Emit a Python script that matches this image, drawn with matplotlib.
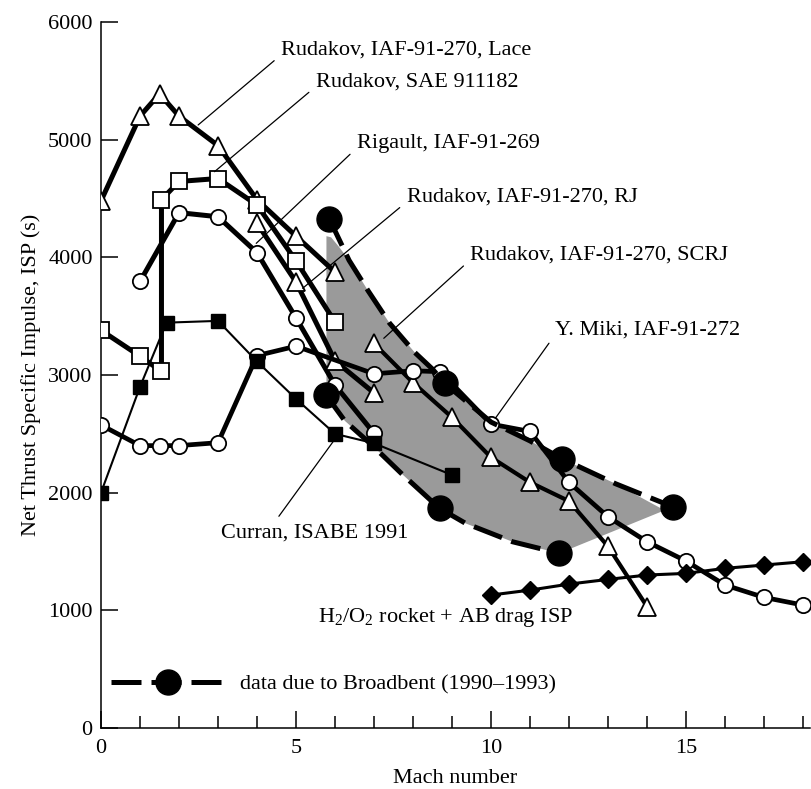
import matplotlib
matplotlib.use('Agg')
import matplotlib.pyplot as plt

plt.rcParams['font.family'] = ['Liberation Serif', 'DejaVu Serif']
plt.rcParams['mathtext.default'] = 'regular'
plt.rcParams['font.size'] = 16

# Rudakov, IAF-91-270, Lace (open triangles)
lace_m = [0, 1, 1.5, 2, 3, 4, 5, 6]
lace_isp = [4480, 5200, 5390, 5200, 4950, 4490, 4180, 3875]
# Rudakov, SAE 911182 (open squares)
sae_m = [0, 1, 1.55, 1.55, 2, 3, 4, 5, 6]
sae_isp = [3380, 3160, 3030, 4490, 4645, 4670, 4445, 3970, 3450]
# Rigault, IAF-91-269 (open circles)
rig_m = [1, 2, 3, 4, 5, 6, 7]
rig_isp = [3795, 4380, 4345, 4040, 3485, 2915, 2505]
# Rudakov, IAF-91-270, RJ
rj_m = [4, 5, 6, 7]
rj_isp = [4290, 3790, 3120, 2848]
# Rudakov, IAF-91-270, SCRJ
scrj_m = [7, 8, 9, 10, 11, 12, 13, 14]
scrj_isp = [3268, 2935, 2640, 2300, 2088, 1928, 1543, 1032]
# Y. Miki, IAF-91-272
miki_m = [0, 1, 1.5, 2, 3, 4, 5, 7, 8, 8.7, 10, 11, 12, 13, 14, 15, 16, 17, 18]
miki_isp = [2575, 2400, 2400, 2400, 2425, 3165, 3245, 3010, 3036, 3028, 2583,
            2520, 2087, 1795, 1583, 1419, 1215, 1110, 1045]
# Curran, ISABE 1991 (filled squares)
cur_m = [0, 1, 1.68, 3, 4, 5, 6, 7, 9]
cur_isp = [2000, 2900, 3445, 3460, 3115, 2797, 2500, 2420, 2150]
# H2/O2 rocket + AB drag (diamonds)
rock_m = [10, 11, 12, 13, 14, 15, 16, 17, 18]
rock_isp = [1130, 1172, 1223, 1263, 1300, 1314, 1357, 1385, 1413]

# Broadbent data points and band edges
bb_m = [5.85, 8.81, 11.81, 14.66, 5.77, 8.68, 11.75]
bb_isp = [4330, 2930, 2290, 1880, 2830, 1867, 1485]
bb_up_m = [5.85, 6.36, 6.85, 7.4, 8.05, 8.5, 8.81, 10.0, 11.0, 11.81, 13.2, 14.66]
bb_up_isp = [4330, 3975, 3715, 3440, 3190, 3050, 2930, 2600, 2440, 2290, 2075, 1880]
bb_lo_m = [5.77, 6.25, 6.95, 7.7, 8.68, 9.35, 10.55, 11.75]
bb_lo_isp = [2830, 2611, 2404, 2164, 1867, 1739, 1583, 1485]
shade_m = [5.78, 5.9, 6.1, 6.36, 6.85, 7.4, 8.05, 8.5, 8.81, 10.0, 11.0, 11.81,
           13.2, 14.45, 11.75, 10.55, 9.35, 8.68, 7.7, 6.95, 6.25, 5.78]
shade_isp = [4180, 4170, 4090, 3975, 3715, 3440, 3190, 3050, 2930, 2600, 2440, 2290,
             2075, 1850, 1485, 1583, 1739, 1867, 2164, 2404, 2611, 2838]

fig = plt.figure(figsize=(8.12, 7.89), dpi=100)
ax = fig.add_axes([0.1244, 0.0773, 0.8732, 0.8948])

ax.fill(shade_m, shade_isp, color='#9a9a9a', lw=0, zorder=1)

thick = 3.6
wkw = dict(mfc='white', mec='black', mew=1.3, color='black')
ax.plot(lace_m, lace_isp, marker='^', ms=13, lw=thick, zorder=3, **wkw)
ax.plot(sae_m, sae_isp, marker='s', ms=11, lw=thick, zorder=3, **wkw)
ax.plot(rig_m, rig_isp, marker='o', ms=11, lw=thick, zorder=3, **wkw)
ax.plot(rj_m, rj_isp, marker='^', ms=13, lw=thick, zorder=3, **wkw)
ax.plot(scrj_m, scrj_isp, marker='^', ms=13, lw=3.0, zorder=3, **wkw)
ax.plot(miki_m, miki_isp, marker='o', ms=11, lw=3.4, zorder=3, **wkw)
ax.plot(cur_m, cur_isp, marker='s', ms=10, lw=1.5, color='black', zorder=3)
ax.plot(rock_m, rock_isp, marker='D', ms=9.5, lw=2.2, color='black', zorder=3)

dash_up, = ax.plot(bb_up_m, bb_up_isp, color='black', lw=thick, zorder=4)
dash_up.set_dashes((6, 2))
dash_lo, = ax.plot(bb_lo_m, bb_lo_isp, color='black', lw=thick, zorder=4)
dash_lo.set_dashes((6, 2))
dots, = ax.plot(bb_m, bb_isp, 'o', ms=18, color='black', zorder=5)

leg = ax.legend([(dash_up, dots)], ['data due to Broadbent (1990\u20131993)'],
                loc='center left', bbox_to_anchor=(0.014, 0.062),
                frameon=False, borderpad=0, borderaxespad=0,
                handlelength=5.1, handletextpad=0.7, fontsize=16)

# leader lines: (label, target point, text position)
notes = [
    ('Rudakov, IAF-91-270, Lace', (2.49, 5125), (4.62, 5762), (0, 0.25)),
    ('Rudakov, SAE 911182', (2.91, 4728), (5.51, 5493), (0, 0.25)),
    ('Rigault, IAF-91-269', (3.98, 4119), (6.56, 4971), (0, 0.25)),
    ('Rudakov, IAF-91-270, RJ', (5.17, 3737), (7.84, 4513), (0, 0.25)),
    ('Rudakov, IAF-91-270, SCRJ', (7.25, 3312), (9.47, 4020), (0, 0.25)),
    ('Y. Miki, IAF-91-272', (10.11, 2632), (11.64, 3382), (0, 0.25)),
    ('Curran, ISABE 1991', (6.0, 2456), (3.08, 1657), (0.28, 1.0)),
]
for label, xy, xyt, rp in notes:
    ax.annotate(label, xy=xy, xytext=xyt, ha='left', va='center', fontsize=16,
                arrowprops=dict(arrowstyle='-', lw=0.9, color='black',
                                relpos=rp, shrinkA=4, shrinkB=0))

ax.text(12.1, 935, 'H$_2$/O$_2$ rocket + AB drag ISP', ha='right', va='center',
        fontsize=16)

ax.set_xlim(0, 18.18)
ax.set_ylim(0, 6000)
ax.set_xticks([0, 5, 10, 15])
ax.set_xticks(range(0, 19), minor=True)
ax.set_yticks(range(0, 6001, 1000))
ax.tick_params(axis='both', which='major', direction='in', length=12, width=1.1,
               labelsize=16, pad=6)
ax.tick_params(axis='x', which='major', pad=8)
ax.tick_params(axis='x', which='minor', direction='in', length=8.5, width=1.1)
ax.spines['top'].set_visible(False)
ax.spines['right'].set_visible(False)
ax.spines['left'].set_linewidth(1.1)
ax.spines['bottom'].set_linewidth(1.1)
ax.set_xlabel('Mach number', fontsize=16, labelpad=8)
ax.set_ylabel('Net Thrust Specific Impulse, ISP (s)', fontsize=16, labelpad=5)

fig.savefig('out.png', dpi=100)
